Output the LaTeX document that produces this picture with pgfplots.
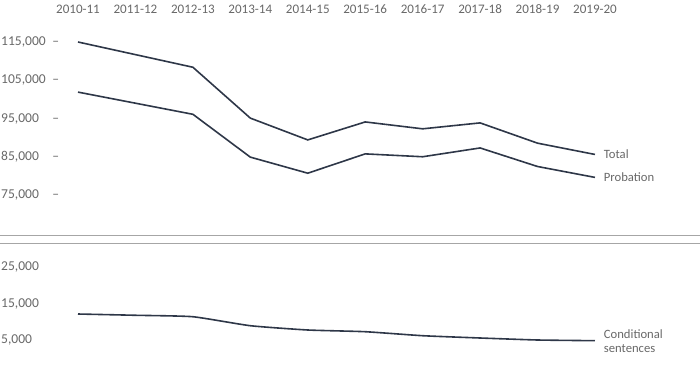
\documentclass[border=0pt]{standalone}
\usepackage{fontspec}
\setmainfont{Carlito}
\usepackage{pgfplots}
\pgfplotsset{compat=1.18}
\definecolor{txt}{HTML}{686868}
\definecolor{ln}{HTML}{2E3748}
\definecolor{sep}{HTML}{A6A6A6}
\begin{document}
\fontsize{12.7}{14}\selectfont
\begin{tikzpicture}
\useasboundingbox (0bp,0bp) rectangle (700bp,371bp);
\draw[sep, line width=1bp] (0bp,135.3bp) -- (700bp,135.3bp);
\draw[sep, line width=1bp] (0bp,127bp) -- (700bp,127bp);
\pgfplotsset{
  base/.style={scale only axis, clip=false, xmin=0, xmax=9, width=517bp,
    axis line style={draw=none}, major tick length=0pt, tick style={draw=none},
    scaled y ticks=false,
    /pgf/number format/assume math mode=true, /pgf/number format/fixed,
    /pgf/number format/precision=0, /pgf/number format/1000 sep={,},
    every tick label/.append style={text=txt},
    yticklabel style={anchor=west, inner sep=0pt, xshift=-77bp, font=\fontsize{13.6}{15}\selectfont},
  },
  dl/.style={ln, line width=1.6bp, mark=none}
}
\begin{axis}[base, at={(78bp,176bp)}, anchor=south west, height=153bp,
  ymin=75000, ymax=115000, ytick={75000,85000,...,115000},
  yticklabel={\makebox[58bp][l]{\pgfmathprintnumber{\tick}\hfill\textendash}},
  xtick={0,...,9}, xticklabel pos=upper,
  xticklabels={2010-11,2011-12,2012-13,2013-14,2014-15,2015-16,2016-17,2017-18,2018-19,2019-20},
  xticklabel style={anchor=base, inner sep=0pt, yshift=28.8bp, font=\fontsize{13.1}{15}\selectfont}]
\addplot[dl] coordinates {(0,115000) (1,111700) (2,108400) (3,95100) (4,89400) (5,94100) (6,92300) (7,93850) (8,88550) (9,85600)};
\addplot[dl] coordinates {(0,101900) (1,99000) (2,96100) (3,84900) (4,80700) (5,85750) (6,85000) (7,87300) (8,82450) (9,79600)};
\node[anchor=west, text=txt, xshift=4.5bp, font=\fontsize{12.7}{14}\selectfont] at (axis cs:9,85600) {Total};
\node[anchor=west, text=txt, xshift=4.5bp, font=\fontsize{12.7}{14}\selectfont] at (axis cs:9,79600) {Probation};
\end{axis}
\begin{axis}[base, at={(78bp,31bp)}, anchor=south west, height=72.7bp,
  ymin=5000, ymax=25000, ytick={5000,15000,25000}, xtick=\empty]
\addplot[dl, smooth, tension=0.3] coordinates {(0,12150) (1,11800) (2,11400) (3,8930) (4,7750) (5,7280) (6,6180) (7,5550) (8,5000) (9,4810)};
\node[anchor=west, text=txt, xshift=4.5bp, align=left, font=\fontsize{12.7}{14}\selectfont] at (axis cs:9,4810) {Conditional\\sentences};
\end{axis}
\end{tikzpicture}
\end{document}
